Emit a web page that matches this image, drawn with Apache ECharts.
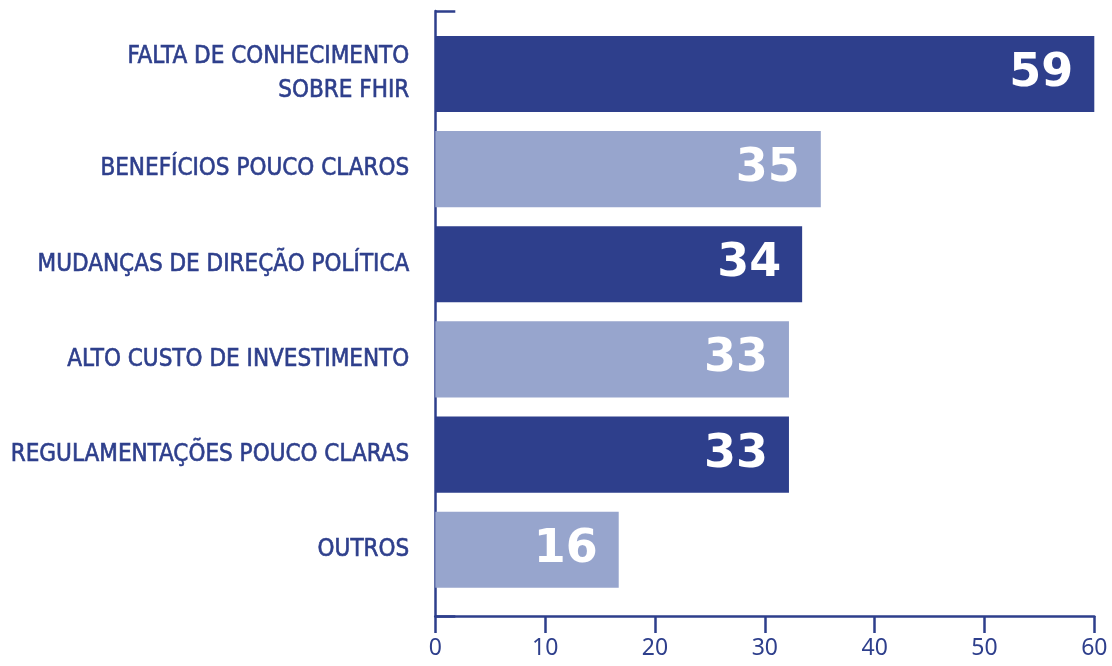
<!DOCTYPE html>
<html>
<head>
<meta charset="utf-8">
<script src="https://cdn.jsdelivr.net/npm/echarts@6/dist/echarts.min.js"></script>
<style>
html,body{margin:0;padding:0;background:#fff;}
#chart{width:1112px;height:666px;}
</style>
</head>
<body>
<div id="chart"></div>
<script>
// ---- data ----
const categories = [
  'FALTA DE CONHECIMENTO\nSOBRE FHIR',
  'BENEFÍCIOS POUCO CLAROS',
  'MUDANÇAS DE DIREÇÃO POLÍTICA',
  'ALTO CUSTO DE INVESTIMENTO',
  'REGULAMENTAÇÕES POUCO CLARAS',
  'OUTROS'
];
// bar lengths as drawn in the picture
const barValues = [60, 35.1, 33.4, 32.2, 32.2, 16.7];
// numbers printed on the bars
const barLabels = [59, 35, 34, 33, 33, 16];
const xTicks = [0, 10, 20, 30, 40, 50, 60];

const DARK = '#2E3F8C';
const LIGHT = '#97A5CD';

const chart = echarts.init(document.getElementById('chart'), null, {renderer: 'canvas'});
const L = 435.3, R = 17.7;
chart.setOption({
  animation: false,
  backgroundColor: '#ffffff',
  grid: [
    {left: L, right: R, top: 11, bottom: 50, containLabel: false, outerBoundsMode: 'none'},
    {left: L, right: R, top: 26.4, bottom: 68.7, containLabel: false, outerBoundsMode: 'none'}
  ],
  xAxis: [
    {
      gridIndex: 0, type: 'value', min: xTicks[0], max: xTicks[xTicks.length - 1], interval: 10,
      splitLine: {show: false},
      axisLine: {show: true, lineStyle: {color: DARK, width: 2.5}},
      axisTick: {show: true, length: 17, lineStyle: {color: DARK, width: 2.5}},
      axisLabel: {color: DARK, fontSize: 23, fontFamily: 'Noto Sans', margin: 21}
    },
    {
      gridIndex: 1, type: 'value', min: xTicks[0], max: xTicks[xTicks.length - 1],
      show: false, splitLine: {show: false}
    }
  ],
  yAxis: [
    {
      gridIndex: 0, type: 'category', data: [''], boundaryGap: true,
      axisLine: {show: true, lineStyle: {color: DARK, width: 2.5}},
      axisTick: {show: true, inside: true, length: 20, lineStyle: {color: DARK, width: 2.5}},
      axisLabel: {show: false}
    },
    {
      gridIndex: 1, type: 'category', data: categories, inverse: true,
      axisLine: {show: false}, axisTick: {show: false},
      axisLabel: {
        color: DARK, fontSize: 24, lineHeight: 34, margin: 26, align: 'right',
        textBorderColor: DARK, textBorderWidth: 0.6,
        fontFamily: '"Liberation Sans Narrow", "DejaVu Sans Condensed", "Roboto Condensed", Roboto, sans-serif'
      }
    }
  ],
  series: [{
    type: 'bar',
    xAxisIndex: 1, yAxisIndex: 1,
    data: barValues,
    barCategoryGap: '20%',
    itemStyle: {color: p => (p.dataIndex % 2 === 0 ? DARK : LIGHT)},
    label: {
      show: true, position: 'insideRight', distance: 21,
      formatter: p => String(barLabels[p.dataIndex]),
      color: '#ffffff', fontSize: 46, fontWeight: 'bold', fontFamily: '"DejaVu Sans", sans-serif'
    }
  }]
});
</script>
</body>
</html>
